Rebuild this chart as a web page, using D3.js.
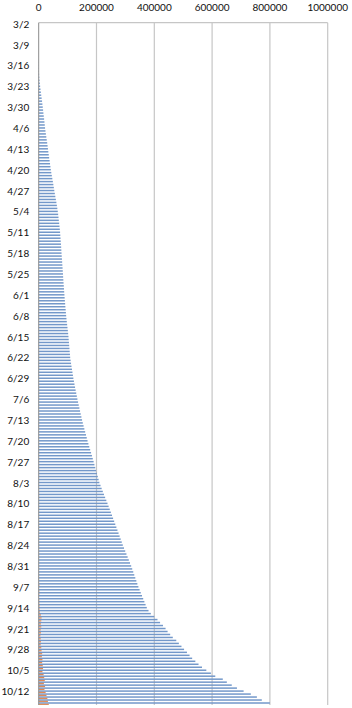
<!DOCTYPE html>
<html>
<head>
<meta charset="utf-8">
<script src="https://cdn.jsdelivr.net/npm/d3@7"></script>
<style>
  body { margin: 0; background: #fff; }
  text { font-family: Lato, "Open Sans", sans-serif; font-size: 10px; fill: #111; }
</style>
</head>
<body>
<div id="container"></div>
<script>
var width = 352,
    height = 708,
    margin = { left: 38.7, top: 22.7, right: 24.3, bottom: 3 },
    gWidth = width - margin.left - margin.right,
    gHeight = height - margin.top - margin.bottom;

// daily categories 3/2 .. 10/16
var days = d3.timeDay.range(new Date(2020, 2, 2), new Date(2020, 9, 17));
var fmt = d3.timeFormat('%-m/%-d');
var categories = days.map(fmt);

// blue series, thousands
var blueK = [
  0, 0, 0, 0, 0, 0.1, 0.1,
  0.1, 0.1, 0.1, 0.2, 0.2, 0.3, 0.4,
  0.5, 0.7, 1.0, 1.4, 2.0, 2.8, 3.8,
  5.0, 6.2, 7.5, 8.8, 10.2, 11.6, 12.8,
  14.0, 15.2, 16.3, 17.5, 18.7, 19.9, 21.0,
  22.0, 23.4, 24.8, 26.3, 27.8, 29.4, 30.8,
  32.0, 33.3, 34.8, 36.2, 37.8, 39.2, 40.6,
  42.0, 43.6, 45.4, 47.2, 49.0, 50.7, 52.4,
  54.0, 55.8, 57.6, 59.4, 61.2, 62.9, 64.5,
  66.0, 67.3, 68.5, 69.6, 70.9, 72.0, 73.0,
  74.0, 74.8, 75.6, 76.3, 77.1, 77.8, 78.4,
  79.0, 79.7, 80.4, 81.2, 81.9, 82.6, 83.3,
  84.0, 84.6, 85.3, 86.0, 86.8, 87.5, 88.2,
  89.0, 89.8, 90.6, 91.5, 92.4, 93.3, 94.1,
  95.0, 96.1, 97.2, 98.4, 99.6, 100.8, 101.9,
  103.0, 103.8, 104.7, 105.5, 106.4, 107.3, 108.1,
  109.0, 110.4, 111.9, 113.5, 115.1, 116.8, 118.4,
  120.0, 121.9, 123.8, 125.8, 127.8, 129.9, 131.9,
  134.0, 136.2, 138.5, 140.8, 143.1, 145.4, 147.7,
  150.0, 152.6, 155.3, 158.0, 160.8, 163.6, 166.3,
  169.0, 172.0, 175.0, 178.1, 181.2, 184.2, 187.1,
  190.0, 192.8, 195.7, 198.6, 201.6, 204.5, 207.3,
  210.0, 213.9, 217.8, 221.8, 225.8, 229.9, 234.0,
  238.0, 241.9, 245.8, 249.7, 253.6, 257.4, 261.2,
  265.0, 268.8, 272.5, 276.3, 280.0, 283.7, 287.4,
  291.0, 295.2, 299.4, 303.6, 307.7, 311.8, 315.9,
  320.0, 323.6, 327.2, 330.7, 334.3, 337.9, 341.4,
  345.0, 349.1, 353.2, 357.4, 361.6, 365.7, 369.8,
  374.0, 380.0, 388.0, 400.0, 411.0, 420.0, 430.0,
  439.0, 446.0, 455.0, 464.0, 476.0, 485.0, 494.0,
  503.0, 513.0, 522.0, 531.0, 542.0, 553.0, 565.0,
  580.0, 596.0, 611.0, 637.0, 651.0, 668.0, 686.0,
  709.0, 734.0, 755.0, 772.0, 800.0
];

// orange series, thousands (only the tail is visible)
var orangeTailStart = 185;
var orangeTailK = [
  1, 1, 1, 2, 1, 2, 2, 1, 2, 2, 3, 3,
  4, 8, 10, 9, 8, 9, 7, 8, 6, 7, 8, 7, 9, 10, 12, 11, 13, 12, 14, 15,
  13, 17, 19, 21, 18, 22, 20, 24, 27, 30, 32, 35
];

var xTicks = [0, 200000, 400000, 600000, 800000, 1000000];

var orangeK = categories.map(function(c, i) {
  return i >= orangeTailStart ? orangeTailK[i - orangeTailStart] : 0;
});

var svg = d3.select('#container')
    .append('svg')
    .attr('width', width)
    .attr('height', height);
var g = svg.append('g')
    .attr('transform', 'translate(' + margin.left + ',' + margin.top + ')');

var scaleX = d3.scaleLinear()
    .domain([0, 1000000])
    .range([0, gWidth]);
var scaleY = d3.scaleBand()
    .domain(categories)
    .range([0, gHeight])
    .padding(0);
var bw = scaleY.bandwidth();

// gridlines
g.selectAll('.grid')
    .data(xTicks.slice(1))
    .enter().append('line')
    .attr('x1', function(d) { return scaleX(d); })
    .attr('x2', function(d) { return scaleX(d); })
    .attr('y1', 0)
    .attr('y2', gHeight)
    .attr('stroke', '#c6c6c6')
    .attr('stroke-width', 1.2);
g.append('line')
    .attr('x1', 0).attr('x2', gWidth)
    .attr('y1', 0).attr('y2', 0)
    .attr('stroke', '#c6c6c6')
    .attr('stroke-width', 1.2);

// bars
g.selectAll('.blue')
    .data(blueK)
    .enter().append('rect')
    .attr('x', 0)
    .attr('y', function(d, i) { return scaleY(categories[i]) + bw * 0.08; })
    .attr('width', function(d) { return scaleX(d * 1000); })
    .attr('height', bw * 0.5)
    .attr('fill', '#7398ca');

g.selectAll('.orange')
    .data(orangeK)
    .enter().append('rect')
    .attr('x', 0)
    .attr('y', function(d, i) { return scaleY(categories[i]) + bw * 0.58; })
    .attr('width', function(d) { return scaleX(d * 1000); })
    .attr('height', bw * 0.4)
    .attr('fill', '#e08a55');

// value axis line
g.append('line')
    .attr('x1', 0).attr('x2', 0)
    .attr('y1', 0).attr('y2', gHeight)
    .attr('stroke', '#8c8c8c')
    .attr('stroke-width', 1);

// top tick labels
g.selectAll('.xlab')
    .data(xTicks)
    .enter().append('text')
    .attr('x', function(d) { return scaleX(d); })
    .attr('y', -11.5)
    .attr('text-anchor', 'middle')
    .text(function(d) { return d; });

// category labels every 7 days
g.selectAll('.ylab')
    .data(categories.filter(function(d, i) { return i % 7 === 0; }))
    .enter().append('text')
    .attr('x', -9.5)
    .attr('y', function(d) { return scaleY(d) + bw / 2; })
    .attr('dy', '0.35em')
    .attr('text-anchor', 'end')
    .text(function(d) { return d; });
</script>
</body>
</html>
